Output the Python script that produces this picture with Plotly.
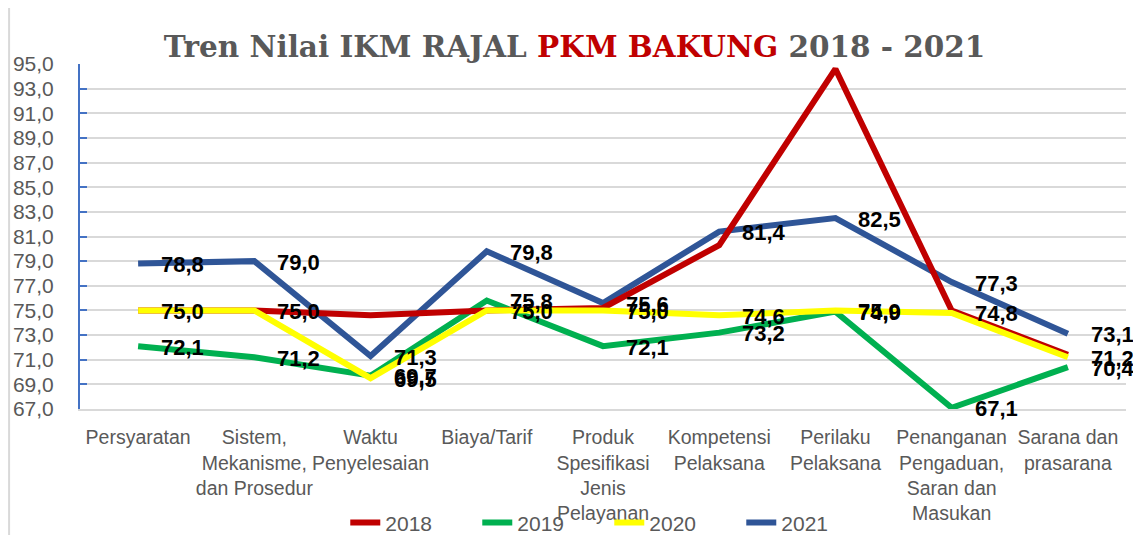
import plotly.graph_objects as go

categories = [
    "Persyaratan",
    "Sistem,<br>Mekanisme,<br>dan Prosedur",
    "Waktu<br>Penyelesaian",
    "Biaya/Tarif",
    "Produk<br>Spesifikasi<br>Jenis<br>Pelayanan",
    "Kompetensi<br>Pelaksana",
    "Perilaku<br>Pelaksana",
    "Penanganan<br>Pengaduan,<br>Saran dan<br>Masukan",
    "Sarana dan<br>prasarana",
]

values_2018 = [75.0, 75.0, 74.6, 75.0, 75.2, 80.3, 94.6, 75.0, 71.4]
values_2019 = [72.1, 71.2, 69.7, 75.8, 72.1, 73.2, 74.9, 67.1, 70.4]
values_2020 = [75.0, 75.0, 69.5, 75.0, 75.0, 74.6, 75.0, 74.8, 71.2]
values_2021 = [78.8, 79.0, 71.3, 79.8, 75.6, 81.4, 82.5, 77.3, 73.1]

y_ticks = [67, 69, 71, 73, 75, 77, 79, 81, 83, 85, 87, 89, 91, 93, 95]

series = [
    # name, values, color, draw labels, legend rank
    ("2019", values_2019, "#00B050", True, 2),
    ("2021", values_2021, "#2F5597", True, 4),
    ("2018", values_2018, "#C00000", False, 1),
    ("2020", values_2020, "#FFFF00", True, 3),
]

LABEL_FONT = "Liberation Sans, Arial, sans-serif"
TEXT_FONT = "Liberation Sans, Arial, sans-serif"

# the page body adds an 8px offset; the figure is sized to fit the window
W, H = 1133, 527

fig = go.Figure()
annotations = []
for name, vals, color, labels, rank in series:
    fig.add_trace(go.Scatter(
        x=categories, y=vals, mode="lines", name=name,
        line=dict(color=color, width=6),
        legendrank=rank,
    ))
    if labels:
        for c, v in zip(categories, vals):
            annotations.append(dict(
                x=c, y=v, xref="x", yref="y",
                text=f"{v:.1f}".replace(".", ","),
                showarrow=False, xanchor="left", yanchor="middle",
                xshift=21, yshift=-1,
                font=dict(family=LABEL_FONT, size=22, color="#000000", weight="bold"),
            ))

fig.update_layout(
    width=W, height=H,
    paper_bgcolor="white", plot_bgcolor="white",
    margin=dict(l=72, r=15, t=56, b=126, autoexpand=False),
    title=dict(
        text='Tren Nilai IKM RAJAL <span style="color:#C00000">PKM BAKUNG</span> 2018 - 2021',
        x=0.5, xanchor="center", y=1 - 39 / H, yanchor="middle",
        font=dict(family="DejaVu Serif, serif", size=29.5, color="#595959", weight="bold"),
    ),
    showlegend=True,
    legend=dict(
        orientation="h", x=0.506, xanchor="center", y=-0.33, yanchor="middle",
        font=dict(family=TEXT_FONT, size=21, color="#595959"),
        entrywidth=87, entrywidthmode="pixels",
        bgcolor="rgba(0,0,0,0)", traceorder="normal",
    ),
    annotations=annotations,
    shapes=[dict(type="line", xref="paper", yref="paper",
                 x0=-0.0678, x1=-0.0678, y0=-0.37, y1=1.19,
                 line=dict(color="#D9D9D9", width=2))],
)

fig.update_xaxes(
    type="category", range=[-0.5, 8.5], automargin=False,
    showgrid=False, showline=True, linecolor="#D9D9D9", linewidth=2,
    ticks="", ticklabelstandoff=10,
    tickfont=dict(family=TEXT_FONT, size=19.5, color="#595959"),
    tickangle=0,
)
fig.update_yaxes(
    range=[67, 95], tickvals=y_ticks, automargin=False,
    ticktext=[f"{t:.1f}".replace(".", ",") for t in y_ticks],
    showgrid=True, gridcolor="#D9D9D9", gridwidth=2,
    showline=True, linecolor="#4472C4", linewidth=2,
    ticks="inside", ticklen=7, tickcolor="#4472C4", tickwidth=2,
    ticklabelstandoff=20,
    tickfont=dict(family=TEXT_FONT, size=21, color="#595959"),
    zeroline=False,
)

fig.write_html("out.html")
